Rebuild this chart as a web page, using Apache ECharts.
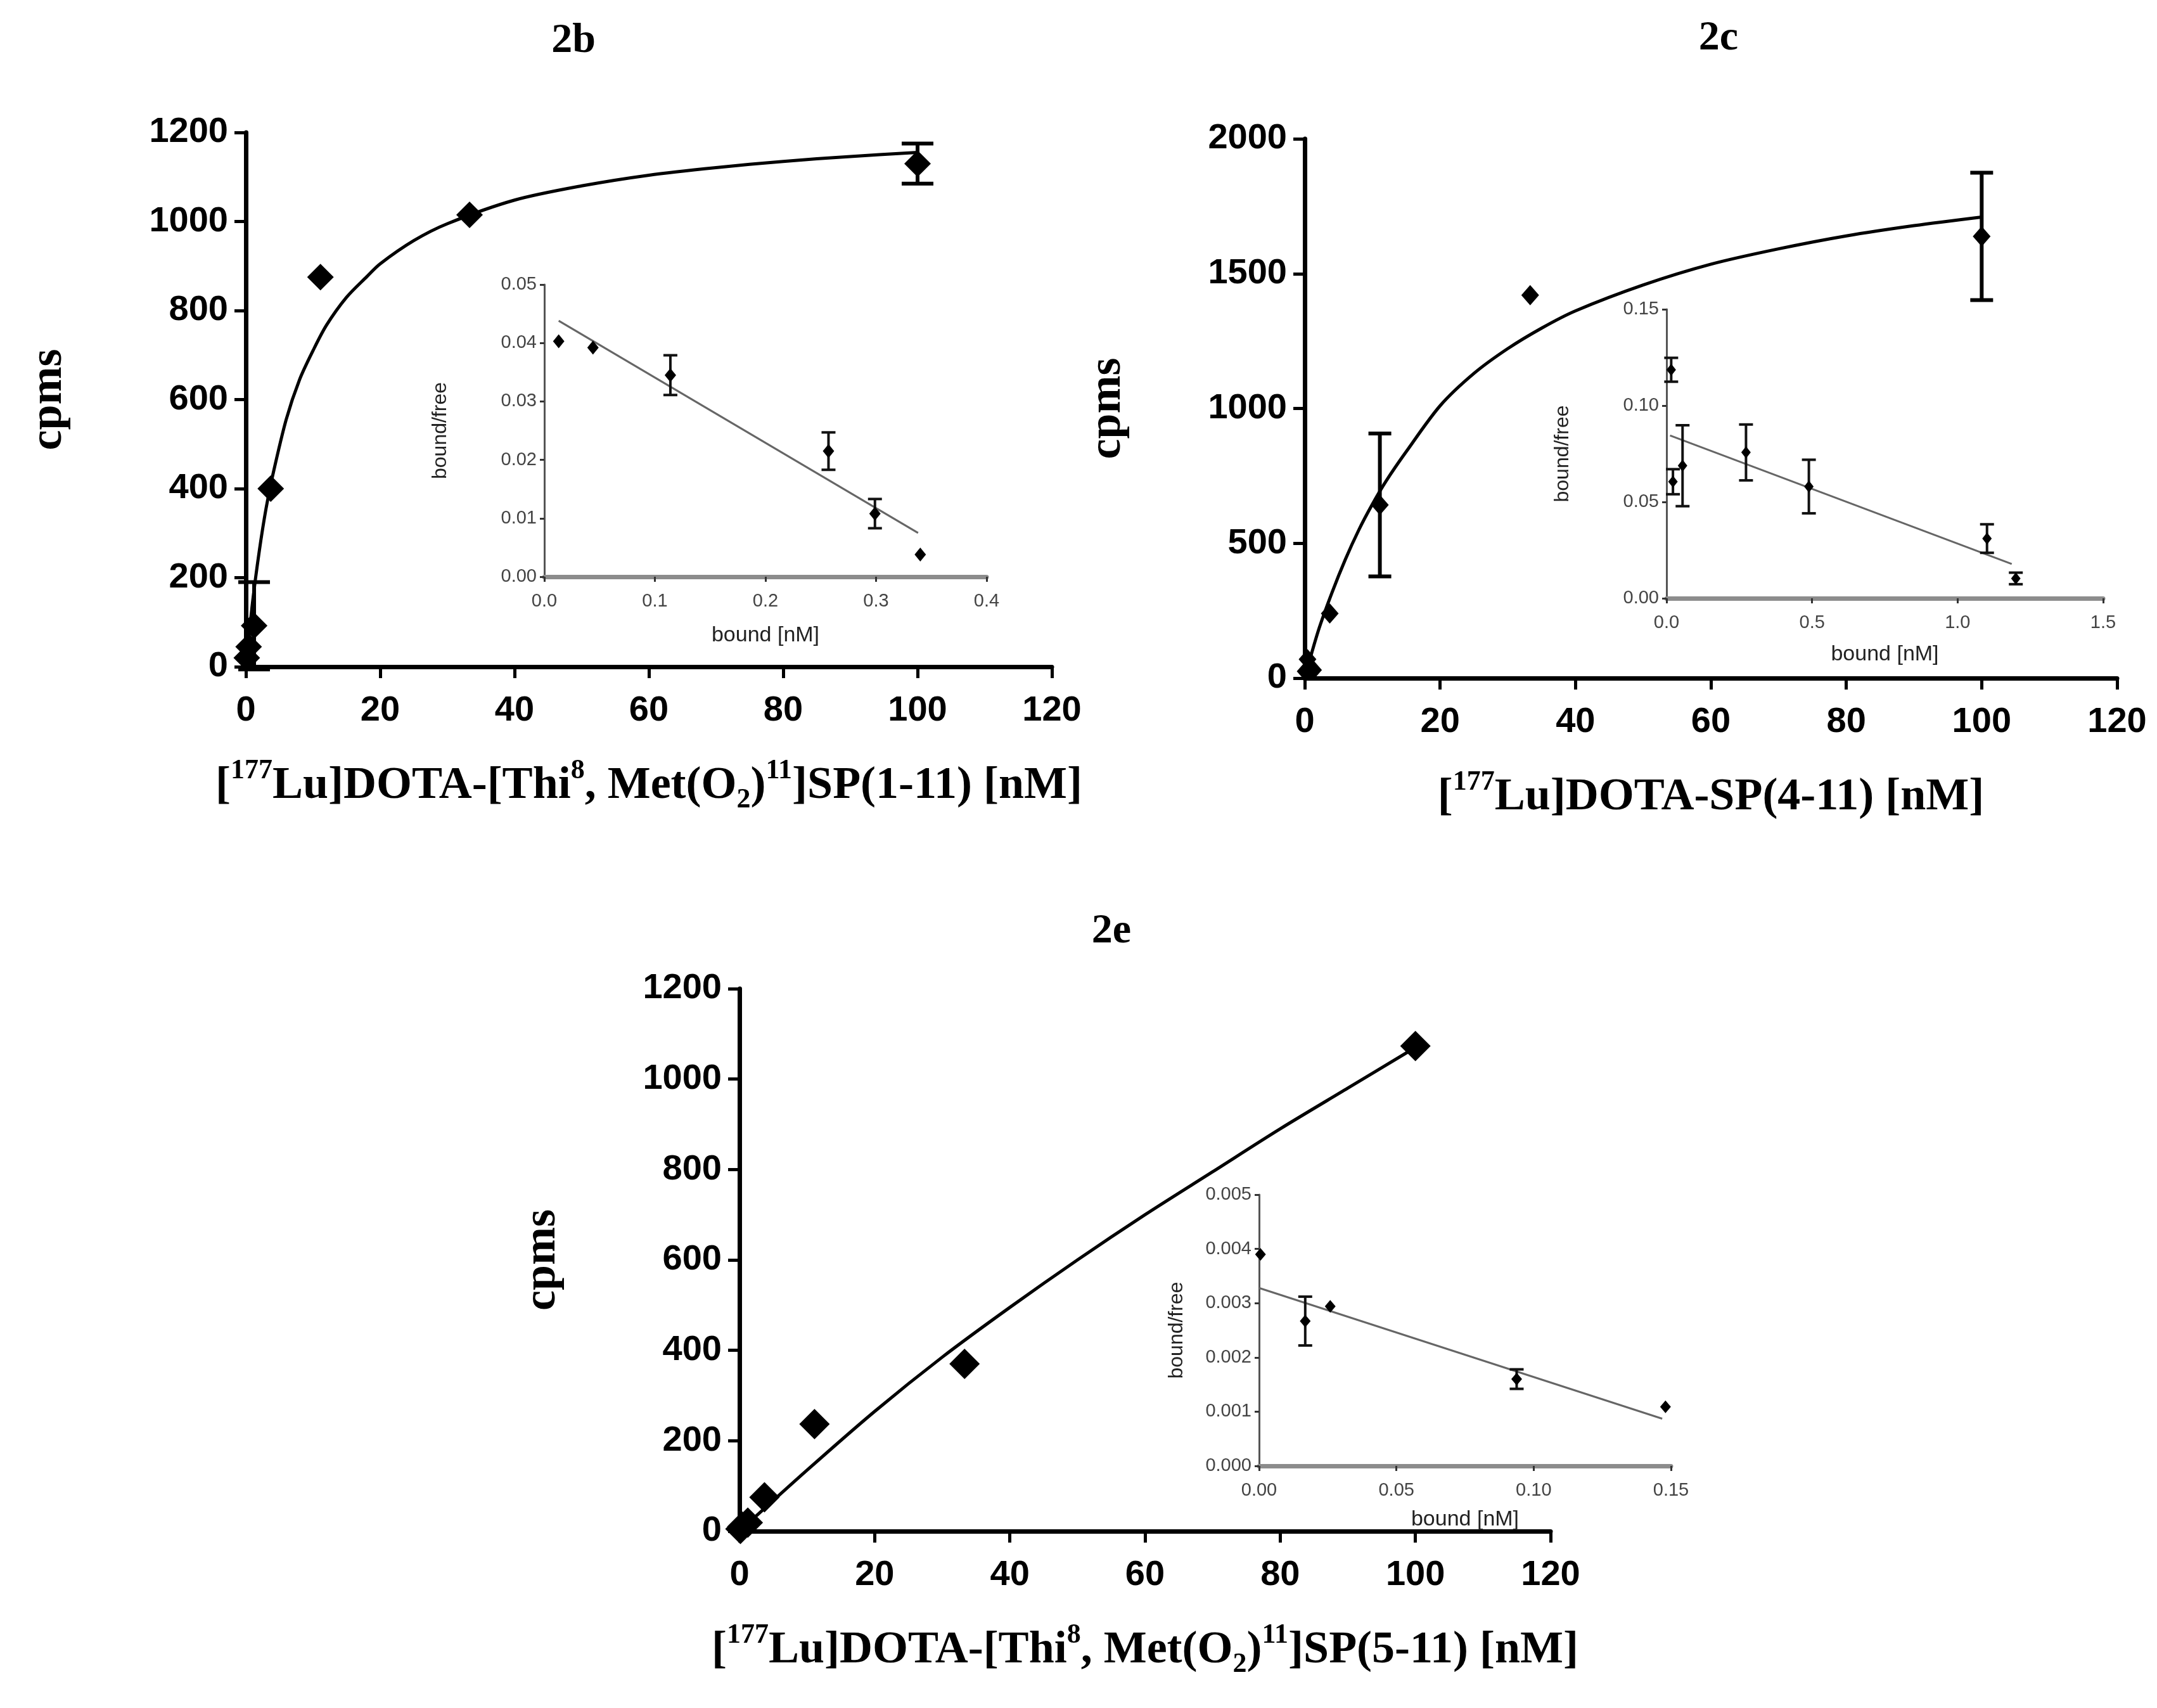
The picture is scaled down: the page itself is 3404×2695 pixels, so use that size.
<!DOCTYPE html>
<html>
<head>
<meta charset="utf-8">
<title>2b 2c 2e saturation binding</title>
<script src="https://cdn.jsdelivr.net/npm/echarts@6/dist/echarts.min.js"></script>
<style>
	* {
		margin: 0;
		padding: 0;
	}
	body {
		background: #fff;
	}
	#main {
		width: 3404px;
		height: 2695px;
	}
</style>
</head>
<body>
<div id="main"></div>
<script>
	// concentration of radioligand, nM (same for all three plots)
	let conc = [0.137, 0.41, 1.23, 3.7, 11.1, 33.3, 100];

	// 2b main
	let cpms2b = [20, 45, 92, 400, 875, 1015, 1130];
	let sem2b = [0, 0, 98, 0, 0, 0, 45];
	let fitX2b = [0, 1, 2, 3, 4, 6, 8, 10, 12, 15, 18, 20, 25, 30, 40, 50, 60, 70, 80, 90, 100];
	let fit2b = [0, 145, 260, 355, 430, 555, 645, 710, 767, 830, 876, 905, 957, 995, 1048, 1080, 1104, 1121, 1135, 1146, 1155];
	// 2b scatchard inset
	let bound2b = [0.013, 0.044, 0.114, 0.257, 0.299, 0.34];
	let ratio2b = [0.0403, 0.0392, 0.0345, 0.0215, 0.0108, 0.0038];
	let semR2b = [0, 0, 0.0034, 0.0032, 0.0025, 0];
	let lineX2b = [0.013, 0.338];
	let lineY2b = [0.0438, 0.0075];

	// 2c main
	let cpms2c = [25, 70, 30, 240, 642, 1420, 1638];
	let sem2c = [0, 0, 0, 0, 265, 0, 236];
	let fitX2c = [0, 2, 4, 6, 8, 10, 12, 15, 20, 25, 30, 35, 40, 50, 60, 70, 80, 90, 100];
	let fit2c = [0, 175, 315, 440, 550, 645, 730, 840, 1010, 1130, 1222, 1298, 1362, 1458, 1535, 1592, 1640, 1678, 1710];
	// 2c inset
	let bound2c = [0.016, 0.022, 0.055, 0.273, 0.489, 1.101, 1.2];
	let ratio2c = [0.1186, 0.0605, 0.0688, 0.0757, 0.0580, 0.0310, 0.0103];
	let semR2c = [0.0062, 0.0065, 0.021, 0.0145, 0.0139, 0.0074, 0.003];
	let lineX2c = [0.012, 1.186];
	let lineY2c = [0.0845, 0.0178];

	// 2e main
	let cpms2e = [5, 10, 19, 75, 237, 370, 1073];
	let fitX2e = [0, 10, 20, 30, 40, 50, 60, 70, 80, 90, 100];
	let fit2e = [0, 135, 265, 385, 495, 600, 700, 795, 890, 980, 1070];
	// 2e inset
	let bound2e = [0.0005, 0.0168, 0.0259, 0.0938, 0.148];
	let ratio2e = [0.0039, 0.00267, 0.00294, 0.0016, 0.00109];
	let semR2e = [0, 0.00045, 0, 0.00018, 0];
	let lineX2e = [0, 0.1468];
	let lineY2e = [0.00328, 0.00087];

	let titles = ['2b', '2c', '2e'];
	let xNames = [
		'[{sup|177}Lu]DOTA-[Thi{sup|8}, Met(O{sub|2}){sup|11}]SP(1-11) [nM]',
		'[{sup|177}Lu]DOTA-SP(4-11) [nM]',
		'[{sup|177}Lu]DOTA-[Thi{sup|8}, Met(O{sub|2}){sup|11}]SP(5-11) [nM]'
	];

	let myChart = echarts.init(document.getElementById('main'));

	let serif = 'Liberation Serif, Times New Roman, serif';
	let sans = 'Liberation Sans, Arial, sans-serif';

	let nameStyle = {
		fontFamily: serif,
		fontWeight: 'bold',
		fontSize: 72,
		color: '#000',
		lineHeight: 90,
		rich: {
			sup: { fontFamily: serif, fontWeight: 'bold', fontSize: 44, lineHeight: 44, verticalAlign: 'top', color: '#000' },
			sub: { fontFamily: serif, fontWeight: 'bold', fontSize: 44, lineHeight: 44, verticalAlign: 'bottom', color: '#000' }
		}
	};

	function pts(xs, ys) {
		return xs.map((x, i) => [x, ys[i]]);
	}

	function bars(xs, ys, es) {
		let out = [];
		xs.forEach((x, i) => {
			if (es[i] > 0) out.push([x, ys[i], es[i]]);
		});
		return out;
	}

	// vertical error bar with caps
	function errBar(capW, lw, color) {
		return function (params, api) {
			let x = api.value(0), y = api.value(1), e = api.value(2);
			let hi = api.coord([x, y + e]);
			let lo = api.coord([x, y - e]);
			let st = { stroke: color, lineWidth: lw, fill: null };
			return {
				type: 'group',
				children: [
					{ type: 'line', shape: { x1: hi[0], y1: hi[1], x2: lo[0], y2: lo[1] }, style: st },
					{ type: 'line', shape: { x1: hi[0] - capW / 2, y1: hi[1], x2: hi[0] + capW / 2, y2: hi[1] }, style: st },
					{ type: 'line', shape: { x1: lo[0] - capW / 2, y1: lo[1], x2: lo[0] + capW / 2, y2: lo[1] }, style: st }
				]
			};
		};
	}

	function mainX(g, name) {
		return {
			gridIndex: g, type: 'value', min: 0, max: 120, interval: 20,
			name: name, nameLocation: 'middle', nameGap: 143, nameTextStyle: nameStyle,
			axisLine: { onZero: false, lineStyle: { color: '#000', width: 7 } },
			axisTick: { length: 18, lineStyle: { color: '#000', width: 5 } },
			axisLabel: { margin: 42, color: '#000', fontSize: 56, fontWeight: 'bold', fontFamily: sans, formatter: v => String(v) },
			splitLine: { show: false }
		};
	}

	function mainY(g, max, interval) {
		return {
			gridIndex: g, type: 'value', min: 0, max: max, interval: interval,
			name: 'cpms', nameLocation: 'middle', nameGap: 275,
			nameTextStyle: { fontFamily: serif, fontWeight: 'bold', fontSize: 72, color: '#000' },
			axisLine: { onZero: false, lineStyle: { color: '#000', width: 7 } },
			axisTick: { length: 18, lineStyle: { color: '#000', width: 5 } },
			axisLabel: { margin: 28, color: '#000', fontSize: 56, fontWeight: 'bold', fontFamily: sans, formatter: v => String(v) },
			splitLine: { show: false }
		};
	}

	function insetX(g, max, interval, digits, nameGap) {
		return {
			gridIndex: g, type: 'value', min: 0, max: max, interval: interval,
			name: 'bound [nM]', nameLocation: 'middle', nameGap: nameGap,
			nameTextStyle: { fontFamily: sans, fontSize: 34, color: '#222' },
			axisLine: { onZero: false, lineStyle: { color: '#8c8c8c', width: 7 } },
			axisTick: { length: 8, lineStyle: { color: '#333', width: 3 } },
			axisLabel: { margin: 24, color: '#444', fontSize: 29, fontFamily: sans, formatter: v => v.toFixed(digits) },
			splitLine: { show: false }
		};
	}

	function insetY(g, max, interval, digits, nameGap) {
		return {
			gridIndex: g, type: 'value', min: 0, max: max, interval: interval,
			name: 'bound/free', nameLocation: 'middle', nameGap: nameGap,
			nameTextStyle: { fontFamily: sans, fontSize: 32, color: '#222' },
			axisLine: { onZero: false, lineStyle: { color: '#555', width: 3 } },
			axisTick: { length: 7, lineStyle: { color: '#333', width: 3 } },
			axisLabel: { margin: 12, color: '#444', fontSize: 29, fontFamily: sans, formatter: v => v.toFixed(digits) },
			splitLine: { show: false }
		};
	}

	function mainSeries(g, fx, fy, ys, es, size, cap) {
		let list = [{
			type: 'line', xAxisIndex: g, yAxisIndex: g, data: pts(fx, fy),
			smooth: 0.3, symbol: 'none',
			lineStyle: { color: '#000', width: 5 }, z: 2, silent: true
		}, {
			type: 'scatter', xAxisIndex: g, yAxisIndex: g, data: pts(conc, ys),
			symbol: 'diamond', symbolSize: size, itemStyle: { color: '#000', opacity: 1 }, z: 3, clip: false
		}];
		if (es) {
			list.push({
				type: 'custom', xAxisIndex: g, yAxisIndex: g, data: bars(conc, ys, es),
				renderItem: errBar(cap, 6, '#000'), z: 3, clip: false
			});
		}
		return list;
	}

	function insetSeries(g, lx, ly, bx, by, be, size) {
		return [{
			type: 'line', xAxisIndex: g, yAxisIndex: g, data: pts(lx, ly),
			symbol: 'none', lineStyle: { color: '#666', width: 3 }, z: 5, silent: true
		}, {
			type: 'scatter', xAxisIndex: g, yAxisIndex: g, data: pts(bx, by),
			symbol: 'diamond', symbolSize: size, itemStyle: { color: '#000', opacity: 1 }, z: 6, clip: false
		}, {
			type: 'custom', xAxisIndex: g, yAxisIndex: g, data: bars(bx, by, be),
			renderItem: errBar(22, 4, '#111'), z: 6, clip: false
		}];
	}

	function titleText(x, y, t) {
		return {
			type: 'text', x: x, y: y,
			style: {
				text: t, fill: '#000', font: 'bold 66px ' + serif,
				align: 'center', verticalAlign: 'middle', textAlign: 'center', textVerticalAlign: 'middle'
			}
		};
	}

	let option = {
		backgroundColor: '#fff',
		animation: false,
		graphic: [
			titleText(905, 65, titles[0]),
			titleText(2712, 61, titles[1]),
			titleText(1754, 1470, titles[2])
		],
		grid: [
			{ left: 388, top: 209, width: 1272, height: 843 },
			{ left: 859, top: 449, width: 698, height: 461 },
			{ left: 2059, top: 219, width: 1282, height: 851 },
			{ left: 2630, top: 488, width: 689, height: 456 },
			{ left: 1167, top: 1560, width: 1280, height: 856 },
			{ left: 1987, top: 1885, width: 650, height: 428 }
		],
		xAxis: [
			mainX(0, xNames[0]),
			insetX(1, 0.4, 0.1, 1, 76),
			mainX(2, xNames[1]),
			insetX(3, 1.5, 0.5, 1, 72),
			mainX(4, xNames[2]),
			insetX(5, 0.15, 0.05, 2, 68)
		],
		yAxis: [
			mainY(0, 1200, 200),
			insetY(1, 0.05, 0.01, 2, 148),
			mainY(2, 2000, 500),
			insetY(3, 0.15, 0.05, 2, 148),
			mainY(4, 1200, 200),
			insetY(5, 0.005, 0.001, 3, 114)
		],
		series: [].concat(
			mainSeries(0, fitX2b, fit2b, cpms2b, sem2b, [42, 42], 50),
			insetSeries(1, lineX2b, lineY2b, bound2b, ratio2b, semR2b, [18, 22]),
			mainSeries(2, fitX2c, fit2c, cpms2c, sem2c, [28, 32], 36),
			insetSeries(3, lineX2c, lineY2c, bound2c, ratio2c, semR2c, [15, 19]),
			mainSeries(4, fitX2e, fit2e, cpms2e, null, [48, 48], 0),
			insetSeries(5, lineX2e, lineY2e, bound2e, ratio2e, semR2e, [17, 20])
		)
	};
	myChart.setOption(option);
</script>
</body>
</html>
